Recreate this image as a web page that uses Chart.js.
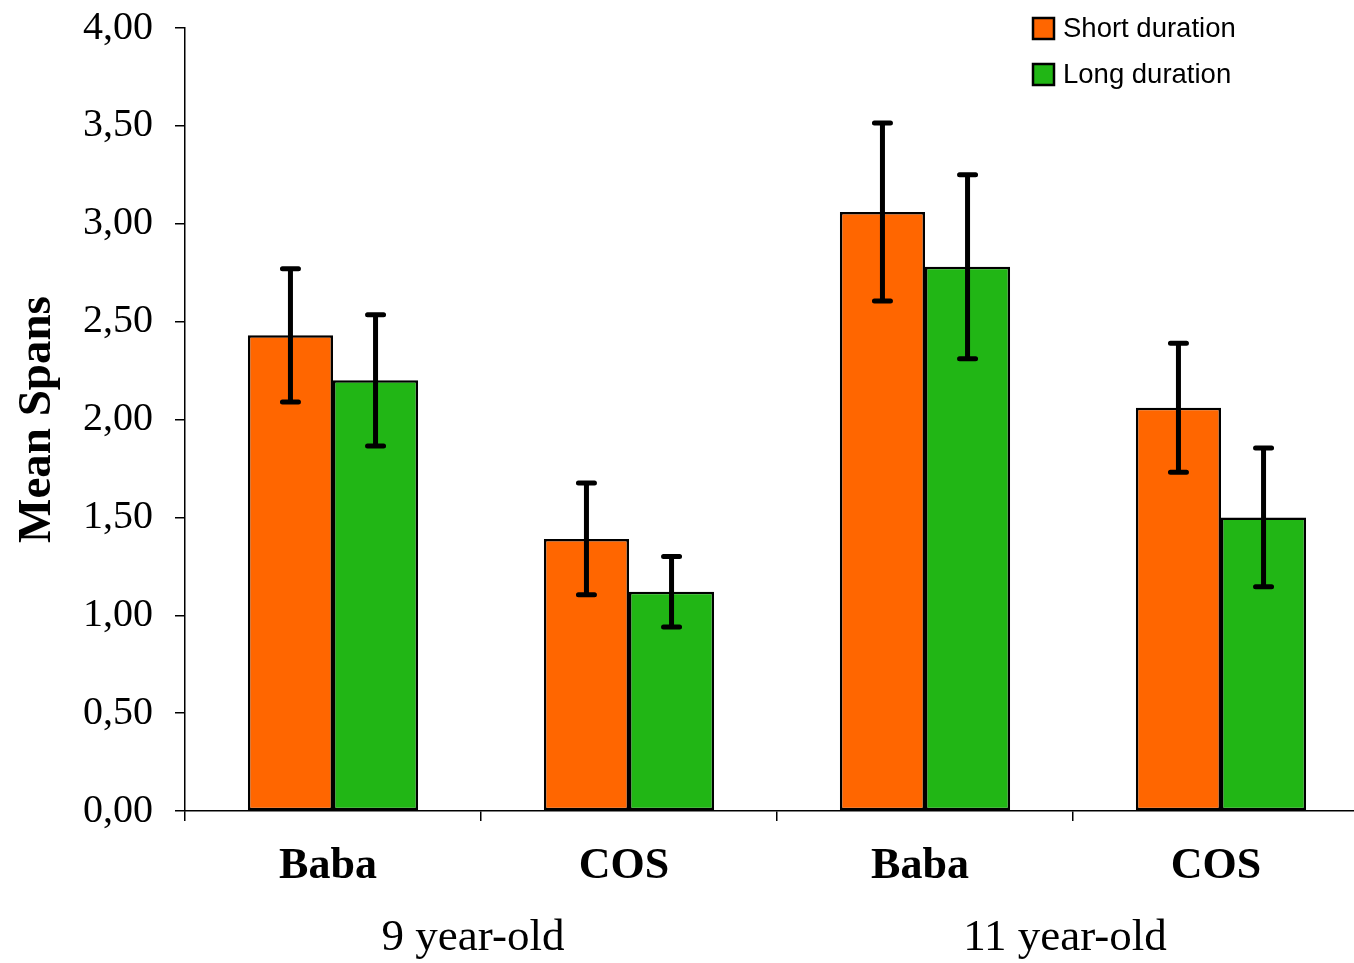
<!DOCTYPE html>
<html>
<head>
<meta charset="utf-8">
<script src="https://cdn.jsdelivr.net/npm/chart.js@4.4.1/dist/chart.umd.min.js"></script>
<style>
  html, body { margin: 0; padding: 0; overflow: hidden; background: #fff; }
  #wrap { width: 1372px; height: 963px; }
</style>
</head>
<body>
<div id="wrap"><canvas id="spanChart" width="1372" height="963"></canvas></div>
<script>
const categories = ['Baba', 'COS', 'Baba', 'COS'];
const ageGroups = ['9 year-old', '11 year-old'];
const seriesNames = ['Short duration', 'Long duration'];
const shortMeans = [2.43, 1.39, 3.06, 2.06];
const longMeans = [2.20, 1.12, 2.78, 1.50];
const shortErrors = [0.34, 0.285, 0.455, 0.33];
const longErrors = [0.335, 0.18, 0.47, 0.355];
const yTicks = [0, 0.5, 1, 1.5, 2, 2.5, 3, 3.5, 4];

const serif = "'Liberation Serif', 'Times New Roman', serif";
const sans = "'Liberation Sans', Arial, sans-serif";

// draws the black error bars from each dataset's errors array
const errorBars = {
  id: 'errorBars',
  afterDatasetsDraw(chart) {
    const ctx = chart.ctx;
    const yScale = chart.scales.y;
    ctx.save();
    ctx.strokeStyle = '#000';
    ctx.lineWidth = 5;
    ctx.lineCap = 'round';
    chart.data.datasets.forEach((ds, i) => {
      const meta = chart.getDatasetMeta(i);
      meta.data.forEach((bar, j) => {
        const v = ds.data[j], e = ds.errors[j];
        const top = yScale.getPixelForValue(v + e);
        const bottom = yScale.getPixelForValue(v - e);
        ctx.beginPath();
        ctx.moveTo(bar.x, top);
        ctx.lineTo(bar.x, bottom);
        ctx.moveTo(bar.x - 8, top);
        ctx.lineTo(bar.x + 8, top);
        ctx.moveTo(bar.x - 8, bottom);
        ctx.lineTo(bar.x + 8, bottom);
        ctx.stroke();
      });
    });
    ctx.restore();
  }
};

// legend in the top right corner, one entry per row
const cornerLegend = {
  id: 'cornerLegend',
  afterDraw(chart) {
    const ctx = chart.ctx;
    const area = chart.chartArea;
    const x = area.right - 336;
    ctx.save();
    ctx.font = '27.5px ' + sans;
    ctx.textBaseline = 'middle';
    chart.data.datasets.forEach((ds, i) => {
      const cy = area.top + i * 46;
      ctx.fillStyle = ds.backgroundColor;
      ctx.fillRect(x, cy - 10, 21, 21);
      ctx.strokeStyle = '#000';
      ctx.lineWidth = 2.5;
      ctx.strokeRect(x, cy - 10, 21, 21);
      ctx.fillStyle = '#000';
      ctx.fillText(ds.label, x + 30, cy + 1);
    });
    ctx.restore();
  }
};

const ctx = document.getElementById('spanChart').getContext('2d');
const chart = new Chart(ctx, {
  type: 'bar',
  data: {
    labels: categories,
    datasets: [{
      label: seriesNames[0],
      data: shortMeans,
      errors: shortErrors,
      backgroundColor: '#FF6600',
      borderColor: '#000',
      borderWidth: 2.5,
      borderSkipped: false
    }, {
      label: seriesNames[1],
      data: longMeans,
      errors: longErrors,
      backgroundColor: '#21B615',
      borderColor: '#000',
      borderWidth: 2.5,
      borderSkipped: false
    }]
  },
  options: {
    responsive: false,
    animation: false,
    categoryPercentage: 0.575,
    barPercentage: 1,
    layout: { padding: { top: 28, right: 3, left: 0, bottom: 0 } },
    plugins: {
      legend: { display: false },
      tooltip: { enabled: false }
    },
    scales: {
      y: {
        min: 0,
        max: 4,
        afterBuildTicks(scale) {
          scale.ticks = yTicks.map(v => ({ value: v }));
        },
        afterFit(scale) {
          scale.width = 185;
          scale.paddingTop = 0;
          scale.paddingBottom = 0;
        },
        border: { color: '#000', width: 1.5 },
        grid: { drawOnChartArea: false, tickLength: 10, color: '#000', lineWidth: 1.5 },
        ticks: {
          color: '#000',
          padding: 22,
          font: { family: serif, size: 40 },
          callback: v => v.toFixed(2).replace('.', ',')
        },
        title: {
          display: true,
          text: 'Mean Spans',
          color: '#000',
          padding: { top: 10, bottom: 0 },
          font: { family: serif, size: 47, weight: 'bold' }
        }
      },
      x: {
        afterFit(scale) { scale.height = 80; },
        border: { color: '#000', width: 1.5 },
        grid: { drawOnChartArea: false, tickLength: 10, color: '#000', lineWidth: 1.5 },
        ticks: {
          color: '#000',
          padding: 19,
          labelOffset: -5,
          font: { family: serif, size: 44, weight: 'bold' }
        }
      },
      x2: {
        type: 'category',
        position: 'bottom',
        labels: ageGroups,
        offset: true,
        afterFit(scale) { scale.height = 72; },
        border: { display: false },
        grid: { display: false },
        ticks: {
          color: '#000',
          padding: 12,
          labelOffset: -8,
          font: { family: serif, size: 45 }
        }
      }
    }
  },
  plugins: [errorBars, cornerLegend]
});
</script>
</body>
</html>
